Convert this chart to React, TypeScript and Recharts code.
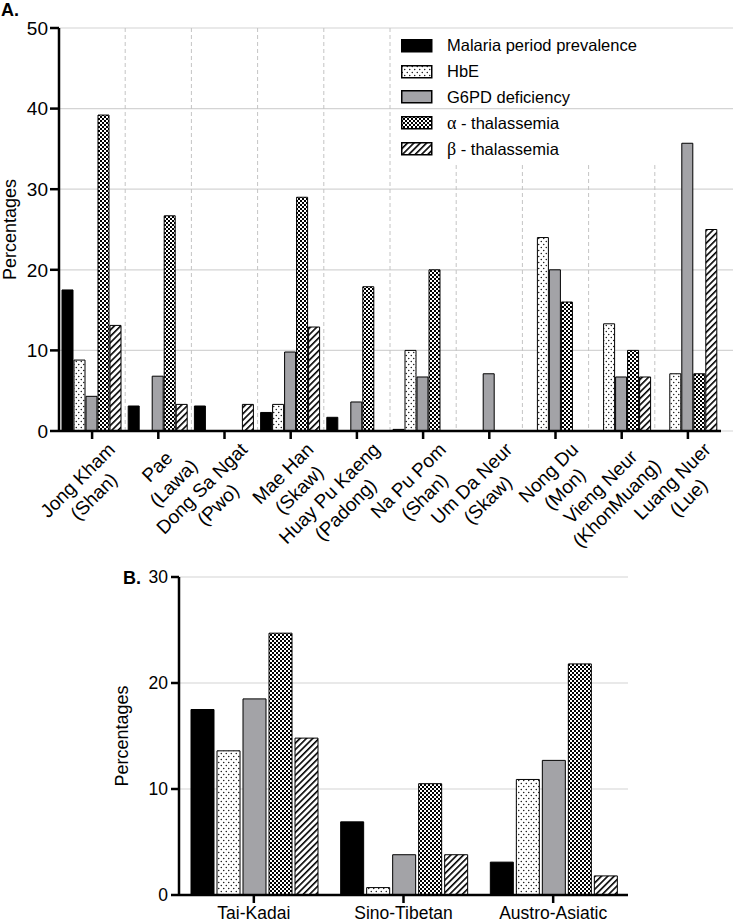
import React from 'react';
import { Bar, BarChart, CartesianGrid, XAxis, YAxis } from 'recharts';

const FONT = '"Liberation Sans", Arial, Helvetica, sans-serif';

// Panel A: villages (ethnic group)
const villages = ['Jong Kham', 'Pae', 'Dong Sa Ngat', 'Mae Han', 'Huay Pu Kaeng', 'Na Pu Pom', 'Um Da Neur', 'Nong Du', 'Vieng Neur', 'Luang Nuer'];
const ethnic = ['(Shan)', '(Lawa)', '(Pwo)', '(Skaw)', '(Padong)', '(Shan)', '(Skaw)', '(Mon)', '(KhonMuang)', '(Lue)'];
const malariaA = [17.5, 3.1, 3.1, 2.3, 1.7, 0.2, 0, 0, 0, 0];
const hbeA = [8.8, 0, 0, 3.3, 0, 10.0, 0, 24.0, 13.3, 7.1];
const g6pdA = [4.3, 6.8, 0, 9.8, 3.6, 6.7, 7.1, 20.0, 6.7, 35.7];
const alphaA = [39.2, 26.7, 0, 29.0, 17.9, 20.0, 0, 16.0, 10.0, 7.1];
const betaA = [13.1, 3.3, 3.3, 12.9, 0, 0, 0, 0, 6.7, 25.0];
const ticksA = [0, 10, 20, 30, 40, 50];

// Panel B: language families
const families = ['Tai-Kadai', 'Sino-Tibetan', 'Austro-Asiatic'];
const malariaB = [17.5, 6.9, 3.1];
const hbeB = [13.6, 0.7, 10.9];
const g6pdB = [18.5, 3.8, 12.7];
const alphaB = [24.7, 10.5, 21.8];
const betaB = [14.8, 3.8, 1.8];
const ticksB = [0, 10, 20, 30];

const dataA = villages.map((v, i) => ({
  name: v,
  group: ethnic[i],
  malaria: malariaA[i],
  hbe: hbeA[i],
  g6pd: g6pdA[i],
  alpha: alphaA[i],
  beta: betaA[i],
}));

const dataB = families.map((f, i) => ({
  name: f,
  malaria: malariaB[i],
  hbe: hbeB[i],
  g6pd: g6pdB[i],
  alpha: alphaB[i],
  beta: betaB[i],
}));

const GRAY = '#a3a3a7';
const GRID = '#d4d4d4';

const series = (p: string) => [
  { key: 'malaria', label: 'Malaria period prevalence', fill: '#000' },
  { key: 'hbe', label: 'HbE', fill: `url(#${p}-dots)` },
  { key: 'g6pd', label: 'G6PD deficiency', fill: GRAY },
  { key: 'alpha', label: 'α', rest: ' - thalassemia', fill: `url(#${p}-checker)` },
  { key: 'beta', label: 'β', rest: ' - thalassemia', fill: `url(#${p}-hatch)` },
];

function Patterns({ id }: { id: string }) {
  return (
    <defs>
      <pattern id={`${id}-dots`} width={5} height={6} patternUnits="userSpaceOnUse">
        <rect width={5} height={6} fill="#fff" />
        <circle cx={1.25} cy={1.5} r={0.7} fill="#000" />
        <circle cx={3.75} cy={4.5} r={0.7} fill="#000" />
      </pattern>
      <pattern id={`${id}-checker`} width={4} height={4} patternUnits="userSpaceOnUse">
        <rect width={4} height={4} fill="#fff" />
        <rect width={2} height={2} fill="#000" />
        <rect x={2} y={2} width={2} height={2} fill="#000" />
      </pattern>
      <pattern id={`${id}-hatch`} width={4.5} height={4.5} patternUnits="userSpaceOnUse" patternTransform="rotate(45)">
        <rect width={4.5} height={4.5} fill="#fff" />
        <rect width={1.6} height={4.5} fill="#000" />
      </pattern>
    </defs>
  );
}

let ctx: CanvasRenderingContext2D | null = null;
function textWidth(s: string, font: string) {
  if (!ctx) ctx = document.createElement('canvas').getContext('2d');
  if (!ctx) return s.length * 10;
  ctx.font = font;
  return ctx.measureText(s).width;
}

// two-line label, lines centred on each other, rotated -45deg
function VillageTick(props: any) {
  const { x, y, payload } = props;
  const i = payload.index;
  const l1 = villages[i];
  const l2 = ethnic[i];
  const size = 19;
  const font = `${size}px ${FONT}`;
  const w = Math.max(textWidth(l1, font), textWidth(l2, font));
  const cx = 3 - w / 2;
  return (
    <g transform={`translate(${x},${y - 10}) rotate(-45)`}>
      <text x={cx} y={31} textAnchor="middle" fontSize={size} fontFamily={FONT} fill="#000">{l1}</text>
      <text x={cx} y={54} textAnchor="middle" fontSize={size} fontFamily={FONT} fill="#000">{l2}</text>
    </g>
  );
}

const hLine = (extra: number) => (p: any) => (
  <line key={p.key} x1={p.x1} y1={p.y1} x2={p.x2 + extra} y2={p.y2} stroke={GRID} strokeWidth={1.2} />
);

const vLineA = (p: any) => {
  const idx = p.index ?? 0;
  // lines under the legend start lower
  const top = idx >= 5 ? p.y2 - ((p.y2 - p.y1) * 33) / 50 : p.y1;
  return <line key={p.key} x1={p.x1} y1={top} x2={p.x2} y2={p.y2} stroke="#c4c4c4" strokeWidth={1} strokeDasharray="4 3" />;
};

const axisStroke = { stroke: '#000', strokeWidth: 2.5 };
const tickStyleA = { fontSize: 19, fill: '#000', fontFamily: FONT };
const tickStyleB = { fontSize: 17.5, fill: '#000', fontFamily: FONT };
const titleStyle = { textAnchor: 'middle', fontSize: 18, fill: '#000', fontFamily: FONT };

function renderBars(p: string) {
  return series(p).map((s) => (
    <Bar key={s.key} dataKey={s.key} fill={s.fill} stroke="#000" strokeWidth={1} isAnimationActive={false} />
  ));
}

function LegendBox() {
  return (
    <div style={{ position: 'absolute', left: 401, top: 33, fontFamily: FONT, fontSize: 16.5, color: '#000' }}>
      {series('a').map((s) => (
        <div key={s.key} style={{ display: 'flex', alignItems: 'center', height: 25.8 }}>
          <svg width={32} height={14} style={{ display: 'block' }}>
            <rect x={0.75} y={0.75} width={30} height={12} fill={s.fill} stroke="#000" strokeWidth={1.5} />
          </svg>
          <span style={{ marginLeft: 14, whiteSpace: 'nowrap' }}>
            {s.rest ? (
              <>
                <span style={{ fontFamily: '"Liberation Serif", serif', fontSize: 18 }}>{s.label}</span>
                {s.rest}
              </>
            ) : (
              s.label
            )}
          </span>
        </div>
      ))}
    </div>
  );
}

export default function App() {
  return (
    <div style={{ position: 'absolute', left: 0, top: 0, width: 733, height: 924, background: '#fff', overflow: 'hidden' }}>
      <div style={{ position: 'absolute', left: 0, top: 0 }}>
        <BarChart width={733} height={560} data={dataA} margin={{ top: 28, right: 12, bottom: 0, left: 0 }} barCategoryGap={3} barGap={1}>
          <Patterns id="a" />
          <CartesianGrid
            horizontal={hLine(12)}
            vertical={vLineA}
            verticalCoordinatesGenerator={({ offset }: any) =>
              Array.from({ length: villages.length - 1 }, (_, k) => offset.left + (offset.width * (k + 1)) / villages.length)
            }
          />
          <XAxis
            dataKey="name"
            interval={0}
            height={129}
            tickSize={8}
            tickLine={axisStroke}
            axisLine={axisStroke}
            tick={<VillageTick />}
          />
          <YAxis
            domain={[0, 50]}
            ticks={ticksA}
            width={59}
            tickSize={9}
            tickMargin={2}
            tickLine={axisStroke}
            axisLine={axisStroke}
            tick={tickStyleA}
            label={{ value: 'Percentages', angle: -90, position: 'insideLeft', offset: 10, style: titleStyle }}
          />
          {renderBars('a')}
        </BarChart>
      </div>
      <LegendBox />
      <div style={{ position: 'absolute', left: 0, top: 560 }}>
        <BarChart width={733} height={364} data={dataB} margin={{ top: 17, right: 105, bottom: 0, left: 0 }} barCategoryGap={12} barGap={3}>
          <Patterns id="b" />
          <CartesianGrid horizontal={hLine(0)} vertical={false} />
          <XAxis dataKey="name" interval={0} height={29} tickSize={8} tickMargin={4} tickLine={axisStroke} axisLine={axisStroke} tick={tickStyleB} />
          <YAxis
            domain={[0, 30]}
            ticks={ticksB}
            width={179}
            tickSize={8}
            tickMargin={3}
            tickLine={axisStroke}
            axisLine={axisStroke}
            tick={tickStyleB}
            label={{ value: 'Percentages', angle: -90, position: 'insideLeft', offset: 122, style: titleStyle }}
          />
          {renderBars('b')}
        </BarChart>
      </div>
      <div style={{ position: 'absolute', left: 1, top: 0, fontFamily: FONT, fontWeight: 'bold', fontSize: 18 }}>A.</div>
      <div style={{ position: 'absolute', left: 123, top: 568, fontFamily: FONT, fontWeight: 'bold', fontSize: 18 }}>B.</div>
    </div>
  );
}
